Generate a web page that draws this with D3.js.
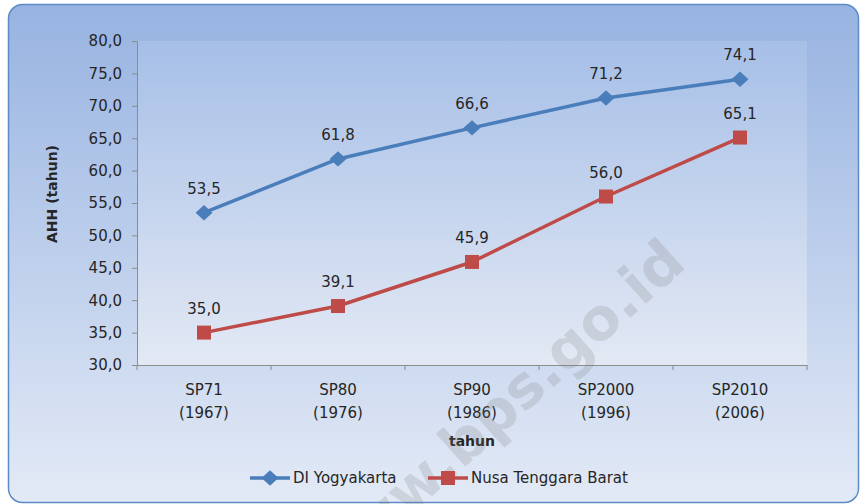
<!DOCTYPE html>
<html>
<head>
<meta charset="utf-8">
<script src="https://cdn.jsdelivr.net/npm/d3@7/dist/d3.min.js"></script>
<style>
  body { margin: 0; background: #fff; }
  text { font-family: "DejaVu Sans", sans-serif; fill: #262626; }
</style>
</head>
<body>
<div class="chart"></div>
<script>
// data
var categories = ["SP71 (1967)", "SP80 (1976)", "SP90 (1986)", "SP2000 (1996)", "SP2010 (2006)"];
var yogyakarta = [53.5, 61.8, 66.6, 71.2, 74.1];
var ntb = [35.0, 39.1, 45.9, 56.0, 65.1];
var yTicks = [30, 35, 40, 45, 50, 55, 60, 65, 70, 75, 80];
var seriesNames = ["DI Yogyakarta", "Nusa Tenggara Barat"];

var svgWidth = 860;
var svgHeight = 504;

var margin = { top: 41, right: 53, bottom: 139, left: 137 };
var width = svgWidth - margin.left - margin.right;
var height = svgHeight - margin.top - margin.bottom;

var fmt = function(v) { return d3.format(".1f")(v).replace(".", ","); };

var svg = d3.select(".chart")
  .append("svg")
  .attr("width", svgWidth)
  .attr("height", svgHeight);

var defs = svg.append("defs");
var outerGrad = defs.append("linearGradient")
  .attr("id", "outerGrad").attr("x1", 0).attr("y1", 0).attr("x2", 0).attr("y2", 1);
outerGrad.append("stop").attr("offset", "0%").attr("stop-color", "#97b3e1");
outerGrad.append("stop").attr("offset", "100%").attr("stop-color", "#e3eaf6");

var plotGrad = defs.append("linearGradient")
  .attr("id", "plotGrad").attr("x1", 0).attr("y1", 0).attr("x2", 0).attr("y2", 1);
plotGrad.append("stop").attr("offset", "0%").attr("stop-color", "#a6bfe7");
plotGrad.append("stop").attr("offset", "100%").attr("stop-color", "#e3e9f4");

// chart background with rounded border
svg.append("rect")
  .attr("x", 8.5).attr("y", 4.5)
  .attr("width", 850).attr("height", 498)
  .attr("rx", 14).attr("ry", 14)
  .attr("fill", "url(#outerGrad)")
  .attr("stroke", "#5b8bc8")
  .attr("stroke-width", 1.5);

var chartGroup = svg.append("g")
  .attr("transform", `translate(${margin.left}, ${margin.top})`);

chartGroup.append("rect")
  .attr("width", width).attr("height", height)
  .attr("fill", "url(#plotGrad)");

var xBand = d3.scaleBand()
  .domain(categories)
  .range([0, width]);

var yLinearScale = d3.scaleLinear()
  .domain([30, 80])
  .range([height, 0]);

var xc = function(i) { return xBand(categories[i]) + xBand.bandwidth() / 2; };

// watermark (behind the marks)
svg.append("text")
  .attr("transform", "translate(688, 266) rotate(-42)")
  .attr("text-anchor", "end")
  .style("font-size", "58px")
  .style("font-weight", "bold")
  .style("fill", "#7a7a7a")
  .style("opacity", 0.2)
  .text("www.bps.go.id");

// y axis
var leftAxis = d3.axisLeft(yLinearScale)
  .tickValues(yTicks)
  .tickSize(5)
  .tickFormat(fmt);

var yAxis = chartGroup.append("g").call(leftAxis);
yAxis.select(".domain").attr("stroke", "#8c8c8c");
yAxis.selectAll(".tick line").attr("stroke", "#8c8c8c");
yAxis.selectAll(".tick text")
  .attr("x", -15)
  .style("font-size", "15px")
  .attr("fill", "#262626");

// x axis: ticks at category boundaries
var bottomAxis = d3.axisBottom(xBand).tickSize(0).tickFormat("");
var xAxis = chartGroup.append("g")
  .attr("transform", `translate(0, ${height})`)
  .call(bottomAxis);
xAxis.select(".domain").attr("stroke", "#8c8c8c");

var bounds = categories.map(function(c) { return xBand(c); }).concat([width]);
xAxis.selectAll(".bound")
  .data(bounds)
  .enter()
  .append("line")
  .attr("x1", d => d).attr("x2", d => d)
  .attr("y1", 0).attr("y2", 5)
  .attr("stroke", "#8c8c8c");

var xLabels = chartGroup.append("g")
  .selectAll("text")
  .data(categories)
  .enter()
  .append("text")
  .attr("text-anchor", "middle")
  .style("font-size", "15px")
  .attr("transform", (d, i) => `translate(${xc(i)}, ${height + 30})`);
xLabels.append("tspan").attr("x", 0).attr("y", 0).text(d => d.split(" ")[0]);
xLabels.append("tspan").attr("x", 0).attr("y", 23).text(d => d.split(" ")[1]);

// axis titles
chartGroup.append("text")
  .attr("x", width / 2)
  .attr("y", height + 81)
  .attr("text-anchor", "middle")
  .style("font-size", "14px")
  .style("font-weight", "bold")
  .text("tahun");

chartGroup.append("text")
  .attr("transform", "rotate(-90)")
  .attr("x", 0 - 153)
  .attr("y", 57 - margin.left)
  .attr("text-anchor", "middle")
  .style("font-size", "14px")
  .style("font-weight", "bold")
  .text("AHH (tahun)");

// lines
var colors = ["#4a7ebb", "#be4b48"];
var series = [yogyakarta, ntb];

var line = d3.line()
  .x((d, i) => xc(i))
  .y(d => yLinearScale(d));

series.forEach(function(vals, s) {
  chartGroup.append("path")
    .datum(vals)
    .attr("fill", "none")
    .attr("stroke", colors[s])
    .attr("stroke-width", 3.5)
    .attr("stroke-linejoin", "round")
    .attr("d", line);
});

// markers
var diamond = d3.symbol().type(d3.symbolDiamond2).size(150);
var square = d3.symbol().type(d3.symbolSquare).size(196);

chartGroup.selectAll(".m1")
  .data(yogyakarta)
  .enter()
  .append("path")
  .attr("d", diamond)
  .attr("transform", (d, i) => `translate(${xc(i)}, ${yLinearScale(d)}) scale(1.1, 1)`)
  .attr("fill", colors[0]);

chartGroup.selectAll(".m2")
  .data(ntb)
  .enter()
  .append("path")
  .attr("d", square)
  .attr("transform", (d, i) => `translate(${xc(i)}, ${yLinearScale(d)})`)
  .attr("fill", colors[1]);

// data labels
series.forEach(function(vals) {
  chartGroup.append("g")
    .selectAll("text")
    .data(vals)
    .enter()
    .append("text")
    .attr("x", (d, i) => xc(i))
    .attr("y", d => yLinearScale(d) - 19)
    .attr("text-anchor", "middle")
    .style("font-size", "15px")
    .text(fmt);
});

// legend
var legend = svg.append("g").attr("transform", "translate(0, 478)");
var legendItems = [
  { x: 250, name: seriesNames[0], color: colors[0], sym: diamond, sc: "scale(1.1, 1)" },
  { x: 428, name: seriesNames[1], color: colors[1], sym: square, sc: "" }
];
legendItems.forEach(function(it) {
  legend.append("line")
    .attr("x1", it.x).attr("x2", it.x + 40)
    .attr("y1", 0).attr("y2", 0)
    .attr("stroke", it.color)
    .attr("stroke-width", 3.5);
  legend.append("path")
    .attr("d", it.sym)
    .attr("transform", `translate(${it.x + 20}, 0) ${it.sc}`)
    .attr("fill", it.color);
  legend.append("text")
    .attr("x", it.x + 43)
    .attr("y", 0)
    .attr("dy", "0.36em")
    .style("font-size", "15px")
    .text(it.name);
});
</script>
</body>
</html>
